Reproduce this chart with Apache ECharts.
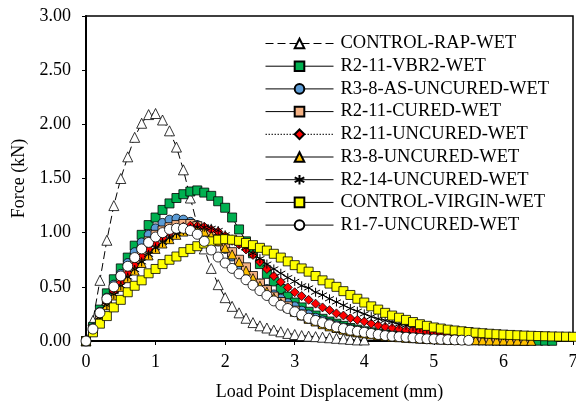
<!DOCTYPE html>
<html>
<head>
<meta charset="utf-8">
<script src="https://cdn.jsdelivr.net/npm/echarts@6/dist/echarts.min.js"></script>
<style>html,body{margin:0;padding:0;background:#fff}#c{width:576px;height:406px}</style>
</head>
<body>
<div id="c"></div>
<script>
const displacement = [0,0.1,0.2,0.3,0.4,0.5,0.6,0.7,0.8,0.9,1.0,1.1,1.2,1.3,1.4,1.5,1.6,1.7,1.8,1.9,2.0,2.1,2.2,2.3,2.4,2.5,2.6,2.7,2.8,2.9,3.0,3.1,3.2,3.3,3.4,3.5,3.6,3.7,3.8,3.9,4.0,4.1,4.2,4.3,4.4,4.5,4.6,4.7,4.8,4.9,5.0,5.1,5.2,5.3,5.4,5.5,5.6,5.7,5.8,5.9,6.0,6.1,6.2,6.3,6.4,6.5,6.6,6.7,6.8,6.9,7.0];

const controlRap = [0,0.19,0.56,0.93,1.25,1.50,1.70,1.88,2.01,2.09,2.10,2.04,1.94,1.79,1.58,1.32,1.07,0.85,0.67,0.52,0.40,0.32,0.26,0.21,0.17,0.14,0.12,0.10,0.085,0.07,0.06,0.05,0.045,0.04,0.035,0.03,0.025,0.02,0.015,0.01,0.01];
const r211Vbr2 = [0,0.13,0.29,0.44,0.57,0.67,0.77,0.88,0.98,1.07,1.14,1.21,1.27,1.32,1.355,1.38,1.39,1.37,1.34,1.29,1.23,1.14,1.03,0.92,0.81,0.71,0.62,0.55,0.48,0.41,0.355,0.31,0.27,0.235,0.205,0.18,0.16,0.14,0.12,0.105,0.09,0.08,0.07,0.06,0.052,0.045,0.04,0.035,0.03,0.026,0.023,0.02,0.018,0.016,0.014,0.012,0.011,0.01,0.009,0.008,0.007,0.006,0.005,0.004,0.004,0.003,0.003,0.002];
const r38AsUncured = [0,0.12,0.27,0.40,0.52,0.62,0.72,0.82,0.91,0.98,1.04,1.09,1.12,1.13,1.12,1.10,1.07,1.03,0.98,0.92,0.85,0.78,0.70,0.64,0.58,0.53,0.48,0.43,0.39,0.35,0.32,0.28,0.245,0.215,0.19,0.165,0.145,0.125,0.11,0.095,0.08,0.07,0.06,0.052,0.045,0.04,0.035,0.03,0.026,0.022,0.02,0.017,0.015,0.013,0.011,0.01,0.008,0.007,0.006,0.005,0.004,0.003,0.002];
const r211Cured = [0,0.11,0.25,0.37,0.48,0.58,0.67,0.76,0.84,0.92,0.98,1.02,1.05,1.07,1.08,1.08,1.06,1.03,0.99,0.94,0.88,0.82,0.75,0.68,0.60,0.53,0.47,0.41,0.36,0.32,0.28,0.245,0.21,0.185,0.165,0.145,0.125,0.11,0.095,0.085,0.075,0.065,0.057,0.05,0.044,0.038,0.033,0.029,0.025,0.022,0.019,0.016,0.014,0.012,0.01,0.009,0.008,0.007,0.006,0.005,0.004,0.003,0.003,0.002];
const r211Uncured = [0,0.10,0.24,0.36,0.46,0.54,0.625,0.70,0.78,0.85,0.90,0.95,0.995,1.03,1.055,1.065,1.06,1.055,1.03,1.01,0.97,0.925,0.89,0.845,0.795,0.73,0.665,0.60,0.545,0.495,0.45,0.415,0.38,0.345,0.31,0.285,0.255,0.235,0.21,0.195,0.18,0.16,0.145,0.13,0.12,0.11,0.10,0.095,0.09,0.085,0.08,0.075,0.07,0.065,0.06,0.056,0.052,0.048,0.044,0.04,0.036];
const r38Uncured = [0,0.09,0.21,0.33,0.42,0.50,0.58,0.65,0.72,0.79,0.85,0.90,0.94,0.98,1.01,1.03,1.03,1.01,0.97,0.92,0.86,0.80,0.73,0.65,0.58,0.51,0.455,0.40,0.35,0.31,0.27,0.235,0.205,0.18,0.155,0.135,0.12,0.105,0.09,0.08,0.07,0.06,0.052,0.045,0.04,0.035,0.03,0.026,0.022,0.019,0.016,0.014,0.012,0.01,0.009,0.008,0.007,0.006,0.005,0.004,0.004,0.003,0.003,0.002,0.002];
const r214Uncured = [0,0.09,0.21,0.33,0.43,0.51,0.59,0.66,0.73,0.80,0.86,0.91,0.95,0.99,1.02,1.04,1.05,1.05,1.04,1.02,0.98,0.94,0.90,0.86,0.81,0.76,0.71,0.665,0.625,0.585,0.55,0.51,0.49,0.45,0.425,0.39,0.36,0.33,0.30,0.275,0.25,0.225,0.205,0.19,0.175,0.155,0.145,0.135,0.125,0.11,0.10,0.095,0.09,0.085,0.08,0.075,0.07,0.065,0.06,0.055,0.05];
const controlVirgin = [0,0.08,0.16,0.23,0.31,0.38,0.45,0.51,0.56,0.625,0.665,0.71,0.75,0.78,0.82,0.85,0.875,0.90,0.92,0.935,0.94,0.935,0.925,0.905,0.885,0.86,0.835,0.805,0.77,0.735,0.70,0.67,0.64,0.60,0.56,0.53,0.50,0.46,0.425,0.39,0.355,0.32,0.29,0.26,0.235,0.215,0.195,0.175,0.155,0.14,0.125,0.115,0.105,0.097,0.09,0.083,0.077,0.072,0.067,0.063,0.059,0.056,0.053,0.05,0.048,0.046,0.044,0.042,0.041,0.04,0.039];
const r17Uncured = [0,0.11,0.26,0.39,0.50,0.60,0.69,0.77,0.85,0.91,0.96,1.00,1.03,1.04,1.04,1.02,0.985,0.92,0.84,0.775,0.72,0.67,0.62,0.565,0.515,0.465,0.42,0.37,0.33,0.30,0.27,0.24,0.21,0.19,0.17,0.15,0.13,0.115,0.10,0.09,0.08,0.07,0.06,0.05,0.045,0.04,0.035,0.03,0.025,0.02,0.018,0.015,0.012,0.01,0.008,0.006];

const yTicks = ['0.00','0.50','1.00','1.50','2.00','2.50','3.00'];

const FONT = '"Liberation Serif", "Times New Roman", serif';
const pairs = ys => ys.map((v, i) => [displacement[i], v]);
const STAR = 'path://M5,0L5,10M0.67,2.5L9.33,7.5M0.67,7.5L9.33,2.5';

function mk(name, ys, symbol, size, fill, lineType, borderW) {
  return {
    name, type: 'line', data: pairs(ys), symbol, symbolSize: size,
    clip: false, smooth: false, animation: false,
    lineStyle: { color: '#000', width: 1, type: lineType || 'solid' },
    itemStyle: { color: fill, borderColor: '#000', borderWidth: borderW == null ? 0.8 : borderW },
    emphasis: { disabled: true }
  };
}

const series = [
  mk('CONTROL-RAP-WET', controlRap, 'triangle', 10, '#fff', [8, 4]),
  mk('R2-11-VBR2-WET', r211Vbr2, 'rect', 9, '#00B050'),
  mk('R3-8-AS-UNCURED-WET', r38AsUncured, 'circle', 9, '#5B9BD5'),
  mk('R2-11-CURED-WET', r211Cured, 'rect', 9, '#F4B183'),
  mk('R2-11-UNCURED-WET', r211Uncured, 'diamond', 9, '#FF0000', [1.5, 1.5]),
  mk('R3-8-UNCURED-WET', r38Uncured, 'triangle', 9, '#FFC000'),
  mk('R2-14-UNCURED-WET', r214Uncured, STAR, 9, '#000', 'solid', 1),
  mk('CONTROL-VIRGIN-WET', controlVirgin, 'rect', 9, '#FFFF00'),
  mk('R1-7-UNCURED-WET', r17Uncured, 'circle', 10, '#fff')
];

const chart = echarts.init(document.getElementById('c'), null, { renderer: 'canvas' });
chart.setOption({
  backgroundColor: '#fff',
  animation: false,
  textStyle: { fontFamily: FONT },
  grid: { left: 86, right: 3, top: 16, bottom: 65, show: true, borderColor: '#000', borderWidth: 1.5, containLabel: false, outerBoundsMode: 'none' },
  legend: {
    orient: 'vertical', left: 260, top: 29,
    itemWidth: 68, itemHeight: 12, itemGap: 3.7,
    lineStyle: { width: 1, color: '#000' },
    textStyle: { fontFamily: FONT, fontSize: 18.5, color: '#000', padding: [0, 0, 0, 2] },
    data: series.map(s => s.name)
  },
  xAxis: {
    type: 'value', min: 0, max: 7, interval: 1,
    name: 'Load Point Displacement (mm)', nameLocation: 'middle', nameGap: 42,
    nameTextStyle: { fontFamily: FONT, fontSize: 18, color: '#000' },
    axisLine: { show: true, lineStyle: { color: '#000', width: 2 } },
    axisTick: { show: true, inside: false, length: 4, lineStyle: { color: '#000', width: 1 } },
    axisLabel: { fontFamily: FONT, fontSize: 18, color: '#000', margin: 12 },
    splitLine: { show: false }
  },
  yAxis: {
    type: 'value', min: 0, max: 3, interval: 0.5,
    name: 'Force (kN)', nameLocation: 'middle', nameGap: 58, nameRotate: 90,
    nameTextStyle: { fontFamily: FONT, fontSize: 18, color: '#000' },
    axisLine: { show: true, lineStyle: { color: '#000', width: 2 } },
    axisTick: { show: true, inside: false, length: 4, lineStyle: { color: '#000', width: 1 } },
    axisLabel: { fontFamily: FONT, fontSize: 18, color: '#000', margin: 15,
      formatter: v => yTicks[Math.round(v / 0.5)] },
    splitLine: { show: false }
  },
  series
});
</script>
</body>
</html>
